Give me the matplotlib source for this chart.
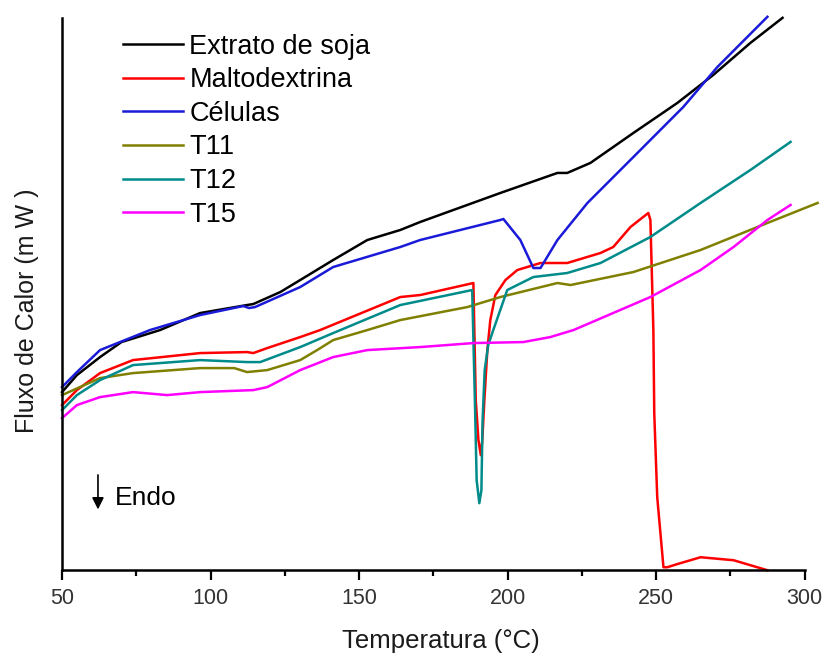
import matplotlib
matplotlib.use('Agg')
import matplotlib.pyplot as plt
from matplotlib.ticker import MultipleLocator

plt.rcParams['font.family'] = ['Liberation Sans', 'DejaVu Sans']

# temperatura (C) and heat flow (arbitrary mW units)
soja_t = [50, 55, 62.8, 70, 83.0, 96.5, 112.3, 114.4, 123.5, 130.2, 141.3, 152.8,
          163.9, 170.6, 197.6, 216.8, 220.1, 227.9, 242.4, 257.2, 269.3, 281.8, 292.6]
soja_q = [17.8, 19.5, 21.3, 22.8, 24.0, 25.7, 26.5, 26.6, 27.8, 29.0, 31.0, 33.0,
          34.0, 34.8, 37.7, 39.7, 39.7, 40.7, 43.7, 46.7, 49.5, 52.7, 55.2]

malto_t = [50, 55, 62.8, 73.9, 96.5, 112.3, 114.4, 119.1, 130.2, 136.9, 163.9, 170.6,
           188.5, 189.3, 190.2, 191.0, 191.5, 192.2, 193.2, 194.2, 195.9, 199.3, 203.3,
           211.1, 220.1, 231.3, 235.6, 241.4, 247.4, 248.1, 249.1, 249.4, 250.4, 252.5,
           253.8, 257.0, 265.0, 276.1, 287.5]
malto_q = [16.5, 18.0, 19.7, 21.0, 21.7, 21.8, 21.7, 22.2, 23.3, 24.0, 27.3, 27.5,
           28.7, 17.0, 13.0, 11.5, 13.0, 17.0, 22.0, 25.0, 27.5, 29.0, 30.0,
           30.7, 30.7, 31.7, 32.3, 34.3, 35.7, 35.0, 24.0, 15.7, 7.3, 0.3,
           0.3, 0.6, 1.3, 1.0, 0.0]

cel_t = [50, 55, 62.8, 79.6, 96.5, 111.0, 113.0, 115.0, 130.2, 141.3, 163.9, 170.6,
         197.6, 198.6, 204.3, 208.7, 211.1, 216.8, 226.9, 242.4, 259.2, 270.7, 287.5]
cel_q = [18.3, 19.8, 22.0, 24.0, 25.5, 26.4, 26.2, 26.3, 28.3, 30.3, 32.3, 33.0,
         35.0, 35.1, 33.0, 30.2, 30.2, 33.0, 36.7, 41.3, 46.3, 50.3, 55.3]

t11_t = [50, 62.8, 73.9, 96.5, 108.0, 112.3, 119.1, 130.2, 135.9, 141.3, 152.8, 163.9,
         186.5, 197.6, 216.8, 221.2, 242.4, 265.0, 287.5, 304.4]
t11_q = [17.5, 19.2, 19.7, 20.2, 20.2, 19.8, 20.0, 21.0, 22.0, 23.0, 24.0, 25.0,
         26.3, 27.3, 28.7, 28.5, 29.8, 32.0, 34.7, 36.7]

t12_t = [50, 55, 62.8, 73.9, 96.5, 112.3, 116.7, 130.2, 141.3, 163.9, 188.1, 189.0,
         189.6, 190.5, 191.2, 191.6, 192.3, 193.5, 195.2, 199.9, 208.7, 220.1, 231.3,
         248.1, 265.0, 281.8, 295.3]
t12_q = [16.0, 17.5, 19.0, 20.5, 21.0, 20.8, 20.8, 22.3, 23.7, 26.5, 28.0, 17.0,
         9.0, 6.7, 8.0, 15.0, 20.0, 22.5, 24.0, 28.0, 29.3, 29.7, 30.7,
         33.3, 36.7, 40.0, 42.8]

t15_t = [50, 55, 62.8, 73.9, 85.4, 96.5, 114.4, 119.1, 130.2, 141.3, 152.8, 170.6,
         188.5, 205.3, 214.4, 222.2, 248.1, 265.0, 276.1, 287.5, 295.3]
t15_q = [15.2, 16.5, 17.3, 17.8, 17.5, 17.8, 18.0, 18.3, 20.0, 21.3, 22.0, 22.3,
         22.7, 22.8, 23.3, 24.0, 27.3, 30.0, 32.3, 35.0, 36.5]

fig = plt.figure(figsize=(8.25, 6.6), dpi=100)
ax = fig.add_axes([0.0752, 0.136, 0.918, 0.837])

series = [
    (soja_t, soja_q, '#000000', 'Extrato de soja'),
    (malto_t, malto_q, '#ff0000', 'Maltodextrina'),
    (cel_t, cel_q, '#1a1ad8', 'Células'),
    (t11_t, t11_q, '#808000', 'T11'),
    (t12_t, t12_q, '#008b8b', 'T12'),
    (t15_t, t15_q, '#ff00ff', 'T15'),
]
for t, q, c, lab in series:
    ax.plot(t, q, color=c, lw=1.8, label=lab, clip_on=False)

ax.set_xlim(50, 305)
ax.set_ylim(0, 55.2)
ax.spines['top'].set_visible(False)
ax.spines['right'].set_visible(False)
ax.spines['bottom'].set_bounds(50, 300)
for s in ['left', 'bottom']:
    ax.spines[s].set_linewidth(1.8)
ax.set_yticks([])
ax.xaxis.set_major_locator(MultipleLocator(50))
ax.xaxis.set_minor_locator(MultipleLocator(25))
ax.set_xticks([50, 100, 150, 200, 250, 300])
ax.tick_params(axis='x', which='major', direction='out', length=7, width=1.6,
               labelsize=15.5, pad=6, labelcolor='#333333')
ax.tick_params(axis='x', which='minor', direction='out', length=4, width=1.6)

ax.set_xlabel('Temperatura (°C)', fontsize=18.5, color='#1a1a1a', labelpad=14)
ax.set_ylabel('Fluxo de Calor (m W )', fontsize=18, color='#1a1a1a')
ax.yaxis.set_label_coords(-0.030, 0.47)

ax.annotate('', xy=(62.1, 5.8), xytext=(62.1, 9.8),
            arrowprops=dict(arrowstyle='-|>,head_width=0.35,head_length=0.7',
                            color='black', lw=1.2))
ax.text(67.9, 7.2, 'Endo', fontsize=19, va='center', ha='left')

ax.legend(loc='upper left', bbox_to_anchor=(0.149, 0.949), bbox_transform=fig.transFigure,
          frameon=False, fontsize=19.5, handlelength=2.2, handletextpad=0.25,
          labelspacing=0.28, borderpad=0, borderaxespad=0)

fig.savefig('out.png', dpi=100)
